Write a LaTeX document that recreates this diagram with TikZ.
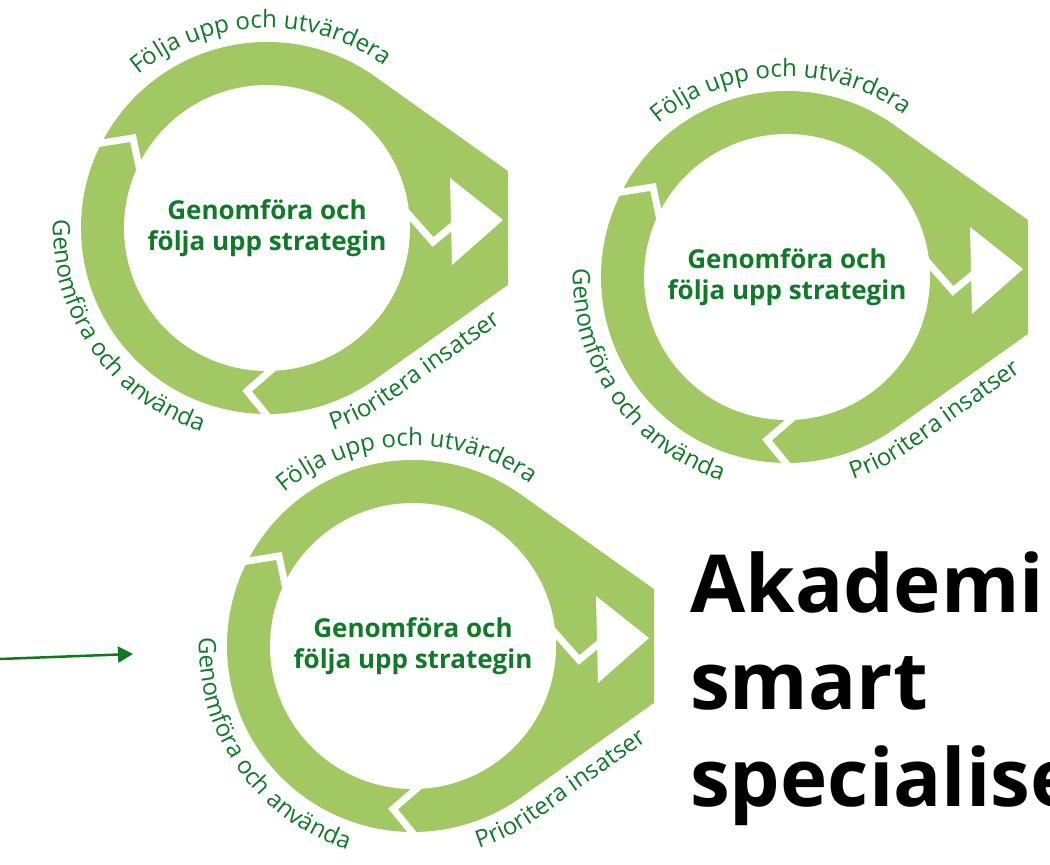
\documentclass[tikz,border=0pt]{standalone}
\usepackage{fontspec}
\setmainfont{Open Sans}
\usetikzlibrary{decorations.text,arrows.meta}
\definecolor{ringgreen}{RGB}{161,200,98}
\definecolor{txtgreen}{RGB}{16,122,40}
\definecolor{arrgreen}{RGB}{16,120,30}
\newcommand\lblfont{\fontsize{24}{28}\selectfont}
\tikzset{
  gapline/.style={draw=white,line width=7pt,line join=miter,line cap=butt},
  centertext/.style={text=txtgreen,font=\fontsize{26}{31}\selectfont\bfseries,align=center,inner sep=0pt},
  bigtext/.style={text=black,font=\fontsize{80}{97}\selectfont\bfseries,inner sep=0pt,anchor=base west},
  ringlabel/.style={decorate,decoration={text along path,text color=txtgreen,text align=#1}},
  loopdiag/.pic={
    \begin{scope}
      \clip (-260,-260) rectangle (241,260);
      \fill[ringgreen] (321,0) -- (54.6:186) arc[start angle=54.6,end angle=305.4,radius=186] -- cycle;
      \fill[white] (0,0) circle[radius=143];
      \draw[gapline] (-178,83) -- (-134,90) -- (-126,52);
      \draw[gapline] (17,-131) -- (-20,-163) -- (7,-196);
      \draw[gapline] (136,20) -- (166,-14) -- (201,15);
      \fill[white] (183,50) -- (236,8) -- (185,-37) -- cycle;
      \path[ringlabel=center,decoration={text={|\lblfont|Följa upp och utvärdera}}]
        (132:200) arc[start angle=132,end angle=52,radius=200];
      \path[ringlabel=center,decoration={text={|\lblfont|Genomföra och använda}}]
        (171:214) arc[start angle=171,end angle=259,radius=214];
      \path[ringlabel=left,decoration={text={|\lblfont|Prioritera insatser}}]
        (-72:213) arc[start angle=-72,end angle=-54.6,radius=213] -- (337,-22);
    \end{scope}
    \node[centertext] (-center) at (0,0) {Genomföra och\\följa upp strategin};
  }
}
\begin{document}
\begin{tikzpicture}[x=1pt,y=1pt]
  \useasboundingbox (0,0) rectangle (1050,865);
  \clip (0,0) rectangle (1050,865);
  \fill[white] (0,0) rectangle (1050,865);
  \pic (c1) at (267,637) {loopdiag};
  \pic (c2) at (787,588) {loopdiag};
  \pic (c3) at (413,219) {loopdiag};
  \node[bigtext] (t1) at (690,252) {Akademin};
  \node[bigtext] (t2) at (690,155) {smart};
  \node[bigtext] (t3) at (690,58) {specialisering};
  \coordinate (a0) at (0,206);
  \coordinate (a1) at (133,211);
  \draw[arrgreen,line width=2.5pt,-{Triangle[length=15pt,width=16pt]}] (a0) -- (a1);
\end{tikzpicture}
\end{document}
